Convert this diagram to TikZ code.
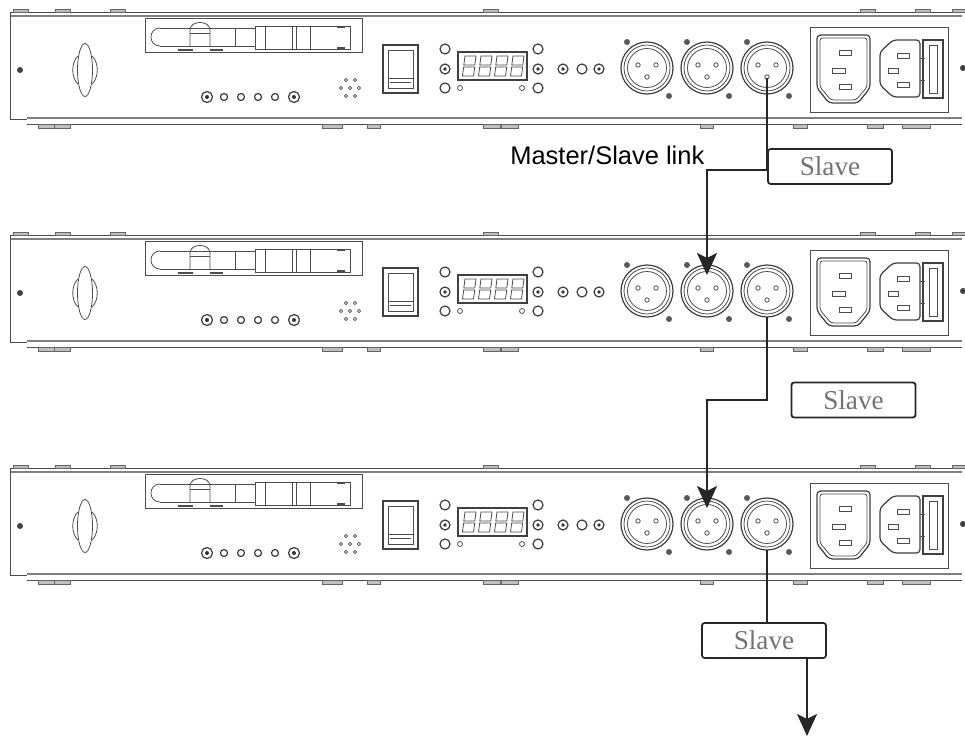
\documentclass[tikz,border=0pt]{standalone}
\usepackage{fontspec}
\setmainfont{Liberation Serif}
\newfontfamily\arialf{Liberation Sans}
\usetikzlibrary{arrows.meta}
\tikzset{
 pl/.style={draw=black!70, line width=0.45pt},
 rail/.style={draw=black!50, line width=1.3pt},
 tab/.style={draw=black!60, fill=black!25, line width=0.4pt},
 btn/.style={draw=black!75, line width=0.7pt},
 link/.style={draw=black!85, line width=1.2pt},
 slavebox/.style={draw=black!85, line width=1pt, rounded corners=1.5pt, minimum width=2.48cm, minimum height=0.7cm, inner sep=0pt, text=black!55, font=\fontsize{15.5pt}{16pt}\selectfont},
 tip/.style={-{Stealth[length=0.44cm,width=0.4cm,inset=0.1cm]}}
}
\newcommand{\rackpanel}{%
 \draw[pl] (10,12) -- (958,12);
 \draw[rail] (10,16) -- (962,16);
 \draw[pl] (10,12) -- (10,119) -- (27,119);
 \draw[rail] (27,118) -- (962,118);
 \draw[pl] (27,124) -- (962,124);
 \foreach \t in {13,55,110,483,860,915,952} \draw[tab] (\t,9) rectangle ++(15,3);
 \foreach \a/\b in {38/54,54/70,322/342,367/380,483/500,501/518,700/713,793/807,867/883,902/930} \draw[tab] (\a,124) rectangle (\b,128);
 \fill[black!75] (20,70) circle (3);
 \fill[black!75] (963,68) circle (3);
 % handle
 \draw[pl] (85,70) ellipse (7.5 and 26.5);
 \draw[pl] (78,56) .. controls (71,62) and (71,78) .. (78,84);
 \draw[pl] (92,56) .. controls (99,62) and (99,78) .. (92,84);
 % antenna box
 \draw[pl] (145,18) rectangle (362,52);
 \draw[pl] (160,28) .. controls (148,28) and (148,46) .. (160,46);
 \draw[pl] (160,28) -- (255,28) (160,46) -- (255,46);
 \draw[pl] (255,26) -- (350,26) -- (350,49) -- (255,49) -- cycle;
 \foreach \v in {235} \draw[pl] (\v,28) -- (\v,46);
 \foreach \v in {265,292,296,310} \draw[pl] (\v,26) -- (\v,49);
 \draw[pl] (190,46) -- (190,30) .. controls (190,20) and (210,20) .. (210,30) -- (210,46);
 \draw[pl] (190,33) -- (210,33);
 \draw[black!70, line width=1.2pt] (178,50) -- (193,50) (210,50) -- (223,50);
 \draw[black!70, line width=1.2pt] (337,27) -- (345,27) (337,48) -- (345,48);
 % button row
 \foreach \bx in {207,294} {\draw[btn] (\bx,97) circle (5.5); \fill[black!80] (\bx,97) circle (2);}
 \foreach \bx in {224,241,258,275} \draw[btn] (\bx,97) circle (3.5);
 % speaker dots
 \foreach \sx/\sy in {346/80,355/80,341/88,350/88,359/88,346/96,355/96} \draw[pl] (\sx,\sy) circle (1.6);
 % switch
 \draw[btn] (383,45) rectangle (418,93);
 \draw[pl] (388,50) rectangle (413,88);
 \draw[pl] (388,78) -- (413,78);
 \draw[pl] (390,82) -- (411,82);
 % display
 \draw[btn] (458,52) rectangle (527,80);
 \foreach \d in {0,1,2,3} {
  \begin{scope}[shift={({462+16*\d},0)}]
   \draw[pl] (1.8,65) -- (12.8,65) -- (14,56) -- (3,56) -- cycle;
   \draw[pl] (0.5,76) -- (11.5,76) -- (12.7,67) -- (1.7,67) -- cycle;
  \end{scope}
 }
 \foreach \bx in {445,538} {
  \draw[btn] (\bx,49) circle (5);
  \draw[btn] (\bx,69) circle (5); \fill[black!80] (\bx,69) circle (1.8);
  \draw[btn] (\bx,88) circle (5);
 }
 \draw[pl] (460,88) circle (2.5);
 \draw[pl] (522,88) circle (2.5);
 \draw[btn] (563,69) circle (5); \fill[black!80] (563,69) circle (1.8);
 \draw[btn] (582,69) circle (5);
 \draw[btn] (599,69) circle (5); \fill[black!80] (599,69) circle (1.8);
 % XLR
 \foreach \c in {647,707,767} {
  \draw[btn] (\c,68) circle (26);
  \draw[pl] (\c,68) circle (23);
  \draw[pl] (\c,68) circle (19.5);
  \draw[pl] (\c-9,65) circle (2.2);
  \draw[pl] (\c+9,65) circle (2.2);
  \draw[pl] (\c,77) circle (2.2);
  \fill[black!65] (\c-20,42) circle (3);
  \fill[black!65] (\c+22,96) circle (3);
 }
 % power block
 \draw[pl] (810,27) rectangle (948,112);
 \draw[btn, rounded corners=2] (817,35) -- (870,35) -- (870,88) -- (858,103) -- (829,103) -- (817,88) -- cycle;
 \draw[pl, rounded corners=1.5] (820,38) -- (867,38) -- (867,87) -- (856,100) -- (831,100) -- (820,87) -- cycle;
 \draw[pl] (839,50) rectangle (851,55);
 \draw[pl] (832,68) rectangle (845,73);
 \draw[pl] (839,84) rectangle (851,89);
 \draw[btn, rounded corners=2] (893,40) -- (920,40) -- (920,97) -- (893,97) -- (880,85) -- (880,52) -- cycle;
 \draw[pl] (897,53) rectangle (909,58);
 \draw[pl] (888,68) rectangle (898,73);
 \draw[pl] (897,82) rectangle (909,87);
 \draw[btn] (923,40) rectangle (943,98);
 \draw[pl] (929,45) rectangle (937,93);
 \draw[pl] (920,58) -- (925,58) (920,80) -- (925,80);
}
\begin{document}
\begin{tikzpicture}[x=0.02cm,y=-0.02cm]
\useasboundingbox (0,0) rectangle (965,737);
\foreach \p/\dy/\oy in {1/0/78,2/223/94,3/456/94} {
 \begin{scope}[shift={(0,\dy)}]
  \rackpanel
  \coordinate (pout\p) at (767,\oy);
  \coordinate (pin\p) at (707,52);
 \end{scope}
}
\node[font=\arialf\fontsize{14.5pt}{15pt}\selectfont, anchor=base west, inner sep=0pt] (msl) at (510,164) {Master/Slave link};
\node[slavebox] (s1) at (830,166.5) {Slave};
\node[slavebox] (s2) at (853.5,400) {Slave};
\node[slavebox] (s3) at (764,640.5) {Slave};
\coordinate (k1) at (707,170);
\coordinate (k2) at (707,400);
\coordinate (endp) at (807,736);
\draw[link,tip] (pout1) |- (k1) -- (pin2);
\draw[link,tip] (pout2) |- (k2) -- (pin3);
\draw[link] (pout3) -- (pout3 |- s3.north);
\draw[link,tip] (s3.south -| endp) -- (endp);
\end{tikzpicture}
\end{document}
